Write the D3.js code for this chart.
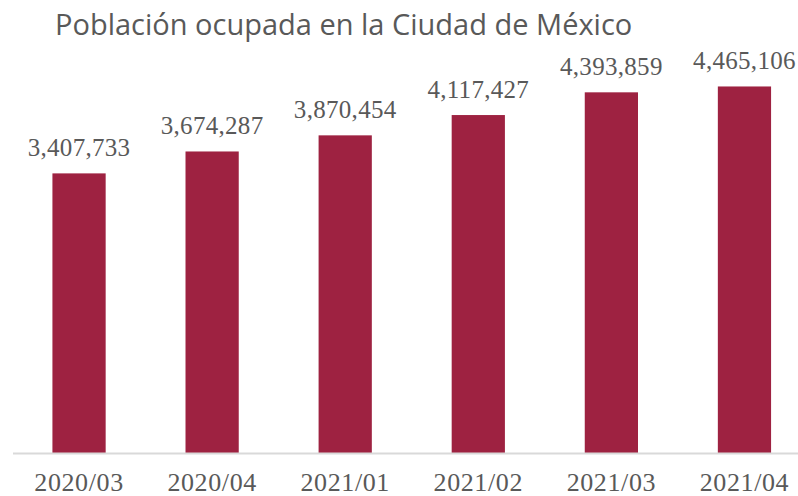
<!DOCTYPE html>
<html><head><meta charset="utf-8">
<script src="https://cdn.jsdelivr.net/npm/d3@7"></script>
<style>body{margin:0;background:#fff}svg{display:block}</style>
</head><body>
<svg id="c" width="798" height="496"></svg>
<script>
const categories = ["2020/03","2020/04","2021/01","2021/02","2021/03","2021/04"];
const values = [3407733, 3674287, 3870454, 4117427, 4393859, 4465106];
const title = "Población ocupada en la Ciudad de México";

const svg = d3.select("#c");
const x = d3.scaleBand().domain(categories).range([12.5, 811]).paddingInner(0.6).paddingOuter(0.3);
const y = d3.scaleLinear().domain([0, 5000000]).range([453.5, 42.5]);

svg.append("text").attr("x", 55).attr("y", 35)
  .attr("font-family", "'Open Sans', sans-serif").attr("font-size", 29)
  .attr("fill", "#595959").text(title);

svg.selectAll("rect.bar").data(values).join("rect").attr("class","bar")
  .attr("x", (d,i)=>x(categories[i])).attr("width", x.bandwidth())
  .attr("y", d=>y(d)).attr("height", d=>y(0)-y(d)).attr("fill", "#9e2241");

svg.selectAll("text.lbl").data(values).join("text").attr("class","lbl")
  .attr("x", (d,i)=>x(categories[i])+x.bandwidth()/2).attr("y", d=>y(d)-17)
  .attr("text-anchor","middle").attr("font-family","'Liberation Serif', serif")
  .attr("font-size", 25).attr("letter-spacing", 0.3).attr("fill","#595959").text(d=>d3.format(",")(d));

const ax = svg.append("g").attr("transform", `translate(0,${y(0)})`)
  .call(d3.axisBottom(x).tickSize(0));
ax.select(".domain").attr("stroke","#d9d9d9").attr("stroke-width",2).attr("d","M13,0H798");
ax.selectAll("text").attr("font-family","'Liberation Serif', serif").attr("font-size",26)
  .attr("letter-spacing", 0.6).attr("fill","#595959").attr("dy", null).attr("y", 37.5);
</script>
</body></html>
